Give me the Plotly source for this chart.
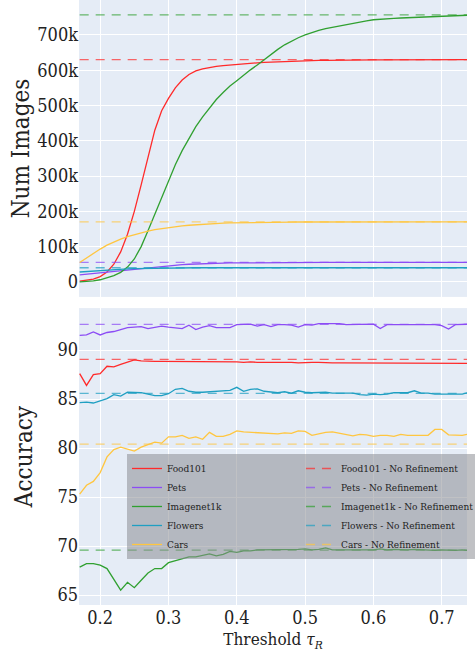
import plotly.graph_objects as go
from plotly.subplots import make_subplots

# Threshold grid tau_R
thresholds = [round(0.17 + 0.01 * i, 2) for i in range(58)]

datasets = ["Food101", "Pets", "Imagenet1k", "Flowers", "Cars"]
colors = ["#ff2a2a", "#8c4cf5", "#30a030", "#1f9fc2", "#ffc640"]

# Number of retained images (thousands) per threshold
images_food101 = [2, 4, 8, 15, 28, 50, 85, 135, 200, 275, 355, 430, 485, 520, 550, 572,
                  588, 598, 604, 608, 611, 613, 615, 617, 618.5, 620, 621, 622, 623, 624,
                  625, 626, 626.5, 627, 627.5, 628, 628, 628.5, 629, 629, 629, 629.5,
                  629.5, 629.5, 629.5, 629.5, 630, 630, 630, 630, 630, 630, 630, 630, 630,
                  630, 630, 630]
images_pets = [20, 22, 24, 26, 28, 30, 32, 34, 36, 38, 40, 42, 44, 46, 47.5, 49, 50, 51,
               51.8, 52.4, 53, 53.4, 53.8, 54, 54.2, 54.4, 54.6, 54.7, 54.8, 55, 55, 55,
               55, 55, 55, 55, 55, 55, 55, 55, 55, 55, 55, 55, 55, 55, 55, 55, 55, 55, 55,
               55, 55, 55, 55, 55, 55, 55]
images_imagenet = [0, 1, 3, 6, 11, 18, 27, 42, 65, 100, 145, 192, 241, 289, 332, 372, 407,
                   440, 468, 494, 517, 537, 555, 570, 586, 601, 615, 630, 645, 659, 672,
                   683, 692, 700, 707, 713, 718, 722, 726, 730, 733, 737, 740, 743, 745,
                   746, 747, 748, 749, 750, 750, 751, 752, 752, 753, 754, 755, 756]
images_flowers = [28, 29.5, 31, 32.5, 34, 35, 36, 37, 37.5, 38, 38.5, 39, 39.3, 39.5, 39.7,
                  39.8, 39.9, 40, 40, 40, 40, 40, 40, 40, 40, 40, 40, 40, 40, 40, 40, 40,
                  40, 40, 40, 40, 40, 40, 40, 40, 40, 40, 40, 40, 40, 40, 40, 40, 40, 40,
                  40, 40, 40, 40, 40, 40, 40, 40]
images_cars = [55, 68, 81, 93, 104, 113, 121, 128, 134, 139, 144, 148, 151, 154, 156.5,
               158.5, 160.5, 162, 163.5, 164.5, 165.5, 166.5, 167, 167.5, 168, 168.3, 168.6,
               168.9, 169.1, 169.3, 169.5, 169.6, 169.7, 169.8, 170, 170, 170, 170, 170,
               170, 170, 170, 170, 170, 170, 170, 170, 170, 170, 170, 170, 170, 170, 170,
               170, 170, 170, 170]

# Accuracy (%) per threshold
acc_food101 = [87.6, 86.4, 87.5, 87.6, 88.35, 88.3, 88.55, 88.75, 89.0, 88.9, 88.85, 88.85,
               88.85, 88.85, 88.85, 88.8, 88.8, 88.85, 88.85, 88.8, 88.8, 88.8, 88.8, 88.8,
               88.75, 88.8, 88.75, 88.75, 88.8, 88.75, 88.75, 88.75, 88.7, 88.75, 88.75,
               88.75, 88.7, 88.7, 88.7, 88.7, 88.7, 88.7, 88.7, 88.7, 88.7, 88.7, 88.7, 88.7,
               88.7, 88.7, 88.7, 88.7, 88.7, 88.7, 88.7, 88.7, 88.65, 88.65]
acc_pets = [91.5, 91.55, 91.85, 91.55, 91.8, 91.9, 92.1, 92.3, 92.35, 92.4, 92.2, 92.35,
            92.45, 92.35, 92.3, 92.2, 92.55, 92.1, 92.35, 92.5, 92.3, 92.3, 92.3, 92.6,
            92.65, 92.65, 92.45, 92.6, 92.4, 92.6, 92.6, 92.55, 92.35, 92.6, 92.55, 92.7,
            92.7, 92.7, 92.7, 92.6, 92.6, 92.6, 92.65, 92.65, 92.2, 92.6, 92.6, 92.6, 92.6,
            92.6, 92.6, 92.55, 92.6, 92.5, 92.15, 92.6, 92.6, 92.65]
acc_imagenet = [67.85, 68.2, 68.2, 68.05, 67.7, 66.6, 65.5, 66.3, 65.75, 66.5, 67.25, 67.7,
                67.7, 68.3, 68.5, 68.7, 68.9, 68.9, 69.05, 69.2, 69.0, 69.15, 69.45, 69.35,
                69.5, 69.5, 69.6, 69.6, 69.65, 69.6, 69.65, 69.6, 69.65, 69.7, 69.6, 69.65,
                69.8, 69.6, 69.6, 69.65, 69.6, 69.6, 69.65, 69.6, 69.7, 69.6, 69.65, 69.6,
                69.6, 69.65, 69.6, 69.55, 69.55, 69.6, 69.55, 69.55, 69.6, 69.55]
acc_flowers = [84.65, 84.7, 84.6, 84.8, 85.05, 85.45, 85.3, 85.7, 85.65, 85.65, 85.5, 85.35,
               85.35, 85.55, 86.0, 86.1, 85.8, 85.7, 85.7, 85.75, 85.75, 85.85, 85.9, 86.2,
               85.8, 86.0, 86.05, 85.8, 85.7, 85.65, 85.75, 85.6, 85.85, 85.7, 85.65, 85.7,
               85.7, 85.6, 85.6, 85.65, 85.6, 85.45, 85.4, 85.5, 85.45, 85.5, 85.65, 85.65,
               85.65, 85.85, 85.6, 85.6, 85.5, 85.5, 85.5, 85.5, 85.5, 85.7]
acc_cars = [75.3, 76.2, 76.6, 77.5, 79.1, 79.85, 80.1, 79.9, 79.7, 80.1, 80.35, 80.6, 80.5,
            81.15, 81.15, 81.3, 81.0, 81.15, 80.9, 81.6, 81.2, 81.2, 81.4, 81.75, 81.65,
            81.6, 81.55, 81.5, 81.5, 81.45, 81.55, 81.5, 81.75, 81.7, 81.3, 81.45, 81.6,
            81.65, 81.5, 81.4, 81.25, 81.4, 81.35, 81.2, 81.3, 81.3, 81.2, 81.4, 81.3, 81.3,
            81.3, 81.3, 81.9, 81.9, 81.35, 81.35, 81.3, 81.45]

# Baselines without refinement
images_no_refinement = [630, 55, 757, 40, 170]
acc_no_refinement = [89.05, 92.62, 69.59, 85.58, 80.41]

images = [images_food101, images_pets, images_imagenet, images_flowers, images_cars]
accs = [acc_food101, acc_pets, acc_imagenet, acc_flowers, acc_cars]

FONT = "DejaVu Serif Condensed, DejaVu Serif"

fig = make_subplots(rows=2, cols=1, shared_xaxes=True, vertical_spacing=0.0185)

for name, color, img, acc, img_base, acc_base in zip(
        datasets, colors, images, accs, images_no_refinement, acc_no_refinement):
    n = len(thresholds)
    # top: retained images
    fig.add_trace(go.Scatter(x=thresholds, y=[v * 1000 for v in img], mode="lines",
                             line=dict(color=color, width=1.3), name=name,
                             legendgroup=name, showlegend=False), row=1, col=1)
    fig.add_trace(go.Scatter(x=thresholds, y=[img_base * 1000] * n, mode="lines",
                             line=dict(color=color, width=1.3, dash="9px,7px"),
                             opacity=0.7, name=name + " - No Refinement",
                             legendgroup=name + "nr", showlegend=False), row=1, col=1)
    # bottom: accuracy
    fig.add_trace(go.Scatter(x=thresholds, y=acc, mode="lines",
                             line=dict(color=color, width=1.3), name=name,
                             legendgroup=name), row=2, col=1)
    fig.add_trace(go.Scatter(x=thresholds, y=[acc_base] * n, mode="lines",
                             line=dict(color=color, width=1.3, dash="9px,7px"),
                             opacity=0.7, name=name + " - No Refinement",
                             legendgroup=name + "nr"), row=2, col=1)

fig.update_xaxes(range=[0.169, 0.737], dtick=0.1, tick0=0.2, showline=False,
                 zeroline=False, gridcolor="white", gridwidth=1.2)
fig.update_xaxes(showticklabels=False, row=1, col=1)
fig.update_xaxes(title=dict(text="Threshold <i>τ</i><sub><i>R</i></sub>",
                            font=dict(size=17, family=FONT, color="#222"), standoff=6),
                 tickfont=dict(size=18, family=FONT, color="#222"), row=2, col=1)

fig.update_yaxes(zeroline=False, gridcolor="white", gridwidth=1.2,
                 tickfont=dict(size=18, family=FONT, color="#222"))
fig.update_yaxes(range=[-42600, 799000], dtick=100000,
                 title=dict(text="Num Images", font=dict(size=24, family=FONT, color="#222"),
                            standoff=0), row=1, col=1)
fig.update_yaxes(range=[63.98, 94.29], dtick=5,
                 title=dict(text="Accuracy", font=dict(size=24, family=FONT, color="#222"),
                            standoff=17), row=2, col=1)

fig.update_layout(
    width=475, height=654,
    margin=dict(l=79, r=0, t=0, b=49),
    plot_bgcolor="#e5ecf6",
    paper_bgcolor="white",
    font=dict(family=FONT, color="#222"),
    legend=dict(orientation="h", x=0.1237, y=0.2496, xanchor="left", yanchor="top",
                bgcolor="rgba(140,142,148,0.55)", entrywidth=129,
                font=dict(size=10, family=FONT, color="#222"),
                itemwidth=30, tracegroupgap=0),
)

fig.write_html("out.html")
